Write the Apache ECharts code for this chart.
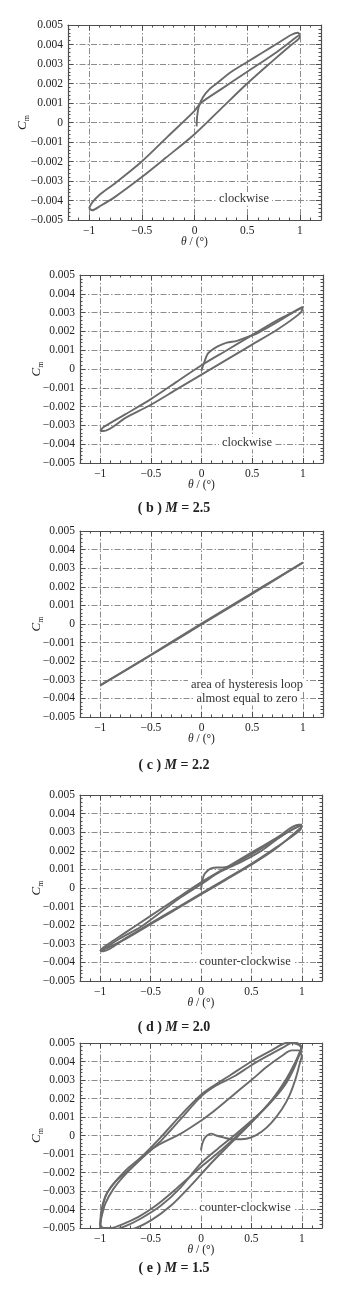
<!DOCTYPE html>
<html><head><meta charset="utf-8">
<script src="https://cdn.jsdelivr.net/npm/echarts@6/dist/echarts.min.js"></script>
<style>html,body{margin:0;padding:0;background:#fff}#c{width:348px;height:1290px}</style>
</head><body><div id="c"></div>
<script>
// ---------- axis settings ----------
const thetaRange = [-1.2, 1.2];
const thetaMinorStep = 0.1;
const cmRange = [-0.005, 0.005];
const cmStep = 0.001;

// ---------- captions / notes ----------
const captionLetters = [null, 'b', 'c', 'd', 'e'];
const captionMach = [null, '2.5', '2.2', '2.0', '1.5'];
const notes = [['clockwise'], ['clockwise'], ['area of hysteresis loop', 'almost equal to zero'], ['counter-clockwise'], ['counter-clockwise']];

// ---------- data: [theta (deg), Cm] ----------
// panel 1 (clockwise)
const p1Start = [[0.02,-0.0002],[0.025,0.0003],[0.04,0.0008],[0.08,0.0013],[0.14,0.0017],[0.21,0.0020],[0.35,0.0026],[0.5,0.0031],[0.65,0.0036],[0.8,0.0041],[0.92,0.0045],[0.98,0.0046],[1.0,0.0045]];
const p1Down = [[1.0,0.0045],[0.99,0.0043],[0.9,0.0039],[0.75,0.0032],[0.5,0.0020],[0.25,0.0007],[0.0,-0.0006],[-0.27,-0.0018],[-0.5,-0.0028],[-0.75,-0.0038],[-0.9,-0.0043],[-0.97,-0.0045],[-1.0,-0.0044]];
const p1Up = [[-1.0,-0.0044],[-0.97,-0.0041],[-0.9,-0.0037],[-0.75,-0.0031],[-0.5,-0.0020],[-0.25,-0.0007],[0.0,0.0006],[0.06,0.0010],[0.25,0.0017],[0.5,0.0026],[0.75,0.0035],[0.9,0.0041],[0.97,0.0044],[1.0,0.0045]];
// panel 2, M = 2.5
const p2Start = [[0.0,-0.0001],[0.01,0.0001],[0.03,0.0004],[0.06,0.0008],[0.1,0.0010],[0.16,0.0012],[0.25,0.0014],[0.35,0.0015],[0.45,0.0017],[0.55,0.0019],[0.75,0.0025],[0.9,0.0030],[1.0,0.0033]];
const p2Down = [[1.0,0.0033],[0.98,0.0030],[0.75,0.0021],[0.5,0.0013],[0.25,0.0005],[0.0,-0.0003],[-0.25,-0.0011],[-0.5,-0.0019],[-0.75,-0.0026],[-0.97,-0.0033],[-1.0,-0.0033]];
const p2Up = [[-1.0,-0.0033],[-0.97,-0.0031],[-0.75,-0.0024],[-0.5,-0.0016],[-0.25,-0.0007],[0.0,0.0002],[0.25,0.0010],[0.5,0.0018],[0.75,0.0026],[0.97,0.0032],[1.0,0.0033]];
// panel 3, M = 2.2
const p3Up = [[-1.0,-0.0033],[-0.5,-0.00165],[0.0,0.00002],[0.5,0.00167],[1.0,0.0033]];
const p3Down = [[1.0,0.0033],[0.5,0.00162],[0.0,-0.00003],[-0.5,-0.00168],[-1.0,-0.0033]];
// panel 4, M = 2.0
const p4Start = [[0.0,-0.0001],[0.01,0.0003],[0.03,0.0007],[0.06,0.0009],[0.1,0.00105],[0.16,0.0011],[0.22,0.0011],[0.3,0.0012],[0.4,0.0015],[0.5,0.0018],[0.65,0.0023],[0.8,0.0028],[0.92,0.0032],[1.0,0.0034]];
const p4Down1 = [[1.0,0.0034],[0.98,0.0031],[0.75,0.0022],[0.5,0.0013],[0.25,0.0005],[0.0,-0.0003],[-0.25,-0.0011],[-0.5,-0.0019],[-0.75,-0.0027],[-0.97,-0.0034],[-1.0,-0.0034]];
const p4Up1 = [[-1.0,-0.0034],[-0.97,-0.0032],[-0.75,-0.0024],[-0.5,-0.0015],[-0.25,-0.0006],[0.0,0.0003],[0.25,0.0011],[0.5,0.0019],[0.75,0.0027],[0.97,0.0034],[1.0,0.0034]];
const p4Down2 = [[1.0,0.0033],[0.75,0.00215],[0.5,0.00125],[0.25,0.00045],[0.0,-0.00035],[-0.25,-0.00115],[-0.5,-0.00195],[-0.75,-0.00275],[-1.0,-0.0034]];
const p4Up2 = [[-1.0,-0.0034],[-0.8,-0.0027],[-0.6,-0.0021],[-0.4,-0.0013],[-0.2,-0.0005],[0.0,0.0002],[0.2,0.0009],[0.4,0.0014],[0.6,0.0020],[0.8,0.0028],[1.0,0.0034]];
// panel 5, M = 1.5
const p5Start = [[0.0,-0.0008],[0.01,-0.0005],[0.03,-0.0002],[0.06,0.0000],[0.1,0.0001],[0.15,0.0000],[0.22,-0.0001],[0.3,-0.0002],[0.4,-0.0002],[0.5,-0.0001],[0.6,0.0002],[0.7,0.0007],[0.8,0.0014],[0.88,0.0022],[0.94,0.0031],[0.98,0.0039],[1.0,0.0043]];
const p5Down1 = [[1.0,0.0043],[0.97,0.0046],[0.9,0.0046],[0.8,0.0043],[0.65,0.0037],[0.5,0.0030],[0.3,0.0021],[0.1,0.0012],[0.0,0.0008],[-0.2,0.0001],[-0.45,-0.0006],[-0.6,-0.0013],[-0.75,-0.0021],[-0.87,-0.0029],[-0.95,-0.0037],[-0.99,-0.0045],[-1.0,-0.0049]];
const p5Up1 = [[-1.0,-0.0049],[-0.96,-0.0051],[-0.88,-0.0051],[-0.75,-0.0049],[-0.6,-0.0045],[-0.4,-0.0038],[-0.2,-0.0028],[0.0,-0.0015],[0.17,-0.0007],[0.35,0.0001],[0.5,0.0008],[0.66,0.0016],[0.83,0.0027],[0.92,0.0036],[0.97,0.0043],[1.0,0.0047]];
const p5Down2 = [[1.0,0.0047],[0.97,0.0049],[0.9,0.0050],[0.83,0.0048],[0.66,0.0043],[0.5,0.0038],[0.33,0.0032],[0.15,0.0027],[0.0,0.0021],[-0.2,0.0009],[-0.4,-0.0003],[-0.55,-0.0010],[-0.7,-0.0018],[-0.85,-0.0025],[-0.93,-0.0031],[-0.97,-0.0037],[-1.0,-0.0048]];
const p5Up2 = [[-1.0,-0.0048],[-0.97,-0.0050],[-0.9,-0.0050],[-0.78,-0.0048],[-0.62,-0.0044],[-0.45,-0.0038],[-0.25,-0.0029],[0.0,-0.0017],[0.2,-0.0008],[0.4,0.0002],[0.55,0.0010],[0.7,0.0019],[0.85,0.0030],[0.94,0.0040],[1.0,0.0048]];
const p5Down3 = [[1.0,0.0048],[0.95,0.0050],[0.85,0.0050],[0.7,0.0046],[0.5,0.0040],[0.3,0.0033],[0.1,0.0026],[0.0,0.0022],[-0.2,0.0011],[-0.4,-0.0001],[-0.6,-0.0012],[-0.75,-0.0019],[-0.88,-0.0027],[-0.95,-0.0033],[-0.99,-0.0041],[-1.0,-0.0050]];
const p5Up3 = [[-1.0,-0.0050],[-0.9,-0.0052],[-0.7,-0.0051],[-0.5,-0.0046],[-0.3,-0.0038],[-0.1,-0.0027],[0.1,-0.0015],[0.3,-0.0004],[0.5,0.0007],[0.7,0.0019],[0.85,0.0031],[0.95,0.0041],[1.0,0.0046]];

const panelLines = [
  [p1Start, p1Down, p1Up],
  [p2Start, p2Down, p2Up],
  [p3Up, p3Down],
  [p4Start, p4Down1, p4Up1, p4Down2, p4Up2],
  [p5Start, p5Down1, p5Up1, p5Down2, p5Up2, p5Down3, p5Up3]
];

// ---------- layout ----------
const layout = [
  {left:68, top:25, width:253, height:195, yNameGap:37, noteX:244, noteY:[199]},
  {left:80, top:275, width:243, height:188, yNameGap:35, noteX:247, noteY:[443]},
  {left:80, top:531, width:243, height:186, yNameGap:35, noteX:247, noteY:[685, 699]},
  {left:80, top:795, width:242, height:186, yNameGap:35, noteX:245, noteY:[962]},
  {left:80, top:1043, width:242, height:185, yNameGap:35, noteX:245, noteY:[1208]}
];
const captionY = [null, 508, 765, 1027, 1268];

const FONT = '"Liberation Serif", "DejaVu Serif", serif';
const TXT = '#222';
const FRAME = '#4d4d4d';
const GRIDC = '#8c8c8c';
const LINEC = '#6a6a6a';
const minus = s => String(s).replace('-', '\u2212');

const grid = [], xAxis = [], yAxis = [], series = [], graphic = [];
layout.forEach((L, i) => {
  grid.push({left: L.left, top: L.top, width: L.width, height: L.height, containLabel: false});
  const lineStyle = {color: FRAME, width: 1.2};
  // bottom main
  xAxis.push({
    gridIndex: i, type: 'value', min: thetaRange[0], max: thetaRange[1], position: 'bottom',
    axisLine: {show: true, onZero: false, lineStyle},
    axisTick: {show: true, inside: true, length: 5, lineStyle: {color: FRAME}},
    axisLabel: {show: true, margin: 5, fontFamily: FONT, fontSize: 11.5, color: TXT, showMinLabel: false, showMaxLabel: false,
      formatter: v => minus(Math.round(v * 10) / 10)},
    splitLine: {show: true, lineStyle: {color: GRIDC, width: 1, type: [6, 2, 1.5, 2]}},
    name: '{t|θ}{s| / (°)}', nameLocation: 'middle', nameGap: 16, nameMoveOverlap: false,
    nameTextStyle: {rich: {t: {fontFamily: FONT, fontSize: 11.5, fontStyle: 'italic', color: TXT}, s: {fontFamily: FONT, fontSize: 11.5, color: TXT}}}
  });
  // bottom minor
  xAxis.push({
    gridIndex: i, type: 'value', min: thetaRange[0], max: thetaRange[1], interval: thetaMinorStep, position: 'bottom',
    axisLine: {show: false, onZero: false}, axisTick: {show: true, inside: true, length: 2.5, lineStyle: {color: FRAME}},
    axisLabel: {show: false}, splitLine: {show: false}
  });
  // top main
  xAxis.push({
    gridIndex: i, type: 'value', min: thetaRange[0], max: thetaRange[1], position: 'top',
    axisLine: {show: true, onZero: false, lineStyle}, axisTick: {show: true, inside: true, length: 5, lineStyle: {color: FRAME}},
    axisLabel: {show: false}, splitLine: {show: false}
  });
  // top minor
  xAxis.push({
    gridIndex: i, type: 'value', min: thetaRange[0], max: thetaRange[1], interval: thetaMinorStep, position: 'top',
    axisLine: {show: false, onZero: false}, axisTick: {show: true, inside: true, length: 2.5, lineStyle: {color: FRAME}},
    axisLabel: {show: false}, splitLine: {show: false}
  });
  // left main
  yAxis.push({
    gridIndex: i, type: 'value', min: cmRange[0], max: cmRange[1], interval: cmStep, position: 'left',
    axisLine: {show: true, onZero: false, lineStyle},
    axisTick: {show: true, inside: true, length: 5, lineStyle: {color: FRAME}},
    minorTick: {show: true, splitNumber: 5, length: 2.5, lineStyle: {color: FRAME}},
    axisLabel: {show: true, margin: 5, fontFamily: FONT, fontSize: 11.5, color: TXT,
      formatter: v => Math.abs(v) < 1e-9 ? '0' : minus((Math.round(v * 1000) / 1000).toFixed(3))},
    splitLine: {show: true, lineStyle: {color: GRIDC, width: 1, type: [6, 2, 1.5, 2]}},
    name: '{c|C}{m|m}', nameLocation: 'middle', nameGap: L.yNameGap, nameRotate: 90, nameMoveOverlap: false,
    nameTextStyle: {rich: {c: {fontFamily: FONT, fontSize: 13, fontStyle: 'italic', color: TXT, lineHeight: 17, verticalAlign: 'middle'},
      m: {fontFamily: FONT, fontSize: 8, color: TXT, lineHeight: 17, verticalAlign: 'bottom'}}}
  });
  // right mirror
  yAxis.push({
    gridIndex: i, type: 'value', min: cmRange[0], max: cmRange[1], interval: cmStep, position: 'right',
    axisLine: {show: true, onZero: false, lineStyle},
    axisTick: {show: true, inside: true, length: 5, lineStyle: {color: FRAME}},
    minorTick: {show: true, splitNumber: 5, length: 2.5, lineStyle: {color: FRAME}},
    axisLabel: {show: false}, splitLine: {show: false}
  });
  panelLines[i].forEach(d => {
    series.push({type: 'line', xAxisIndex: 4 * i, yAxisIndex: 2 * i, data: d, showSymbol: false, symbol: 'none',
      smooth: 0.3, lineStyle: {color: LINEC, width: 1.9}, z: 3, silent: true, animation: false});
  });
  notes[i].forEach((t, k) => {
    graphic.push({type: 'text', x: L.noteX, y: L.noteY[k], z: 100,
      style: {text: t, align: 'center', verticalAlign: 'middle', font: '12.5px ' + FONT, fill: '#333', backgroundColor: '#fff', padding: [0, 3]}});
  });
  if (captionLetters[i]) {
    graphic.push({type: 'text', x: 174, y: captionY[i], z: 100,
      style: {text: '{p|( ' + captionLetters[i] + ' ) }{m|M}{p| = ' + captionMach[i] + '}', align: 'center', verticalAlign: 'middle',
        rich: {p: {fontFamily: FONT, fontSize: 14, fontWeight: 'bold', fill: TXT}, m: {fontFamily: FONT, fontSize: 14, fontWeight: 'bold', fontStyle: 'italic', fill: TXT}}}});
  }
});

const chart = echarts.init(document.getElementById('c'), null, {renderer: 'canvas'});
chart.setOption({animation: false, backgroundColor: '#fff', grid, xAxis, yAxis, series, graphic});
</script></body></html>
